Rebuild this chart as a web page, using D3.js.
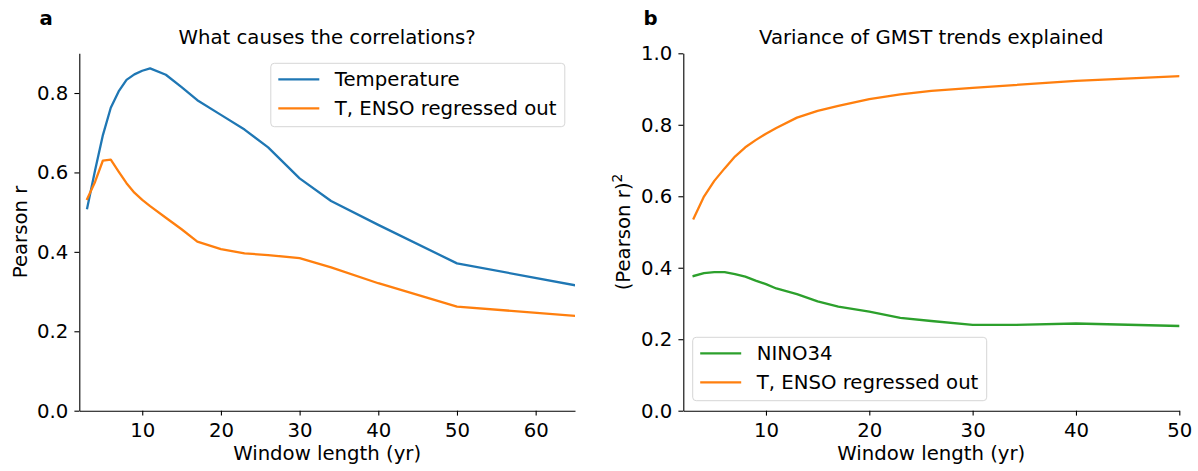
<!DOCTYPE html>
<html>
<head>
<meta charset="utf-8">
<script src="https://cdn.jsdelivr.net/npm/d3@7"></script>
<style>
  body { margin: 0; background: #fff; }
  svg text { font-family: "DejaVu Sans", sans-serif; fill: #000; }
</style>
</head>
<body>
<div id="chart"></div>
<script>
// panel a
const windowsA = [3, 4, 5, 6, 7, 8, 9, 10, 11, 13, 15, 17, 20, 23, 26, 30, 34, 40, 50, 65]
const temperatureA = [0.510, 0.605, 0.694, 0.763, 0.804, 0.833, 0.847, 0.856, 0.862, 0.846, 0.815, 0.782, 0.745, 0.708, 0.663, 0.585, 0.528, 0.468, 0.371, 0.316]
const ensoOutA = [0.533, 0.576, 0.630, 0.632, 0.602, 0.573, 0.549, 0.531, 0.515, 0.486, 0.457, 0.426, 0.407, 0.396, 0.392, 0.384, 0.361, 0.321, 0.262, 0.239]

// panel b
const windowsB = [3, 4, 5, 6, 7, 8, 9, 10, 11, 13, 15, 17, 20, 23, 26, 30, 34, 40, 50]
const nino34B = [0.377, 0.385, 0.388, 0.388, 0.382, 0.375, 0.364, 0.354, 0.342, 0.326, 0.306, 0.291, 0.277, 0.260, 0.251, 0.240, 0.240, 0.244, 0.237]
const ensoOutB = [0.538, 0.599, 0.643, 0.678, 0.711, 0.737, 0.757, 0.775, 0.791, 0.820, 0.839, 0.853, 0.872, 0.885, 0.895, 0.903, 0.911, 0.923, 0.936]

const xTicksA = [10, 20, 30, 40, 50, 60]
const yTicksA = [0, 0.2, 0.4, 0.6, 0.8]
const xTicksB = [10, 20, 30, 40, 50]
const yTicksB = [0, 0.2, 0.4, 0.6, 0.8, 1.0]

const colors = { blue: '#1f77b4', orange: '#ff7f0e', green: '#2ca02c' }
const fontSize = 19.7
const W = 1198, H = 471
const axTop = 53.3, axBottom = 410.7

const svg = d3.select('#chart')
    .append('svg')
        .attr('width', W)
        .attr('height', H)

const drawPanel = ({ left, right, xDomain, yDomain, xTicks, yTicks, series, title, letter, letterX, yLabel, yLabelX, legendPos }) => {
    const x = d3.scaleLinear().domain(xDomain).range([left, right])
    const y = d3.scaleLinear().domain(yDomain).range([axBottom, axTop])

    const g = svg.append('g')

    const clipId = 'clip' + letter
    g.append('clipPath').attr('id', clipId)
        .append('rect')
            .attr('x', left).attr('y', axTop)
            .attr('width', right - left).attr('height', axBottom - axTop)

    const line = d3.line().x(d => x(d[0])).y(d => y(d[1]))

    series.forEach(s => {
        g.append('path')
            .datum(s.xs.map((v, i) => [v, s.ys[i]]))
            .attr('clip-path', `url(#${clipId})`)
            .attr('fill', 'none')
            .attr('stroke', s.color)
            .attr('stroke-width', 2.3)
            .attr('stroke-linejoin', 'round')
            .attr('stroke-linecap', 'square')
            .attr('d', line)
    })

    const xAxis = g.append('g')
        .attr('transform', `translate(0, ${axBottom})`)
        .call(d3.axisBottom(x).tickValues(xTicks).tickFormat(d3.format('d'))
            .tickSize(4.9).tickSizeOuter(0).tickPadding(7.4))
    const yAxis = g.append('g')
        .attr('transform', `translate(${left}, 0)`)
        .call(d3.axisLeft(y).tickValues(yTicks).tickFormat(d3.format('.1f'))
            .tickSize(4.9).tickSizeOuter(0).tickPadding(6.2))

    ;[xAxis, yAxis].forEach(a => {
        a.selectAll('text').style('font-size', fontSize + 'px').style('font-family', '"DejaVu Sans", sans-serif').attr('fill', '#000')
        a.selectAll('line').attr('stroke', '#000').attr('stroke-width', 1.1)
        a.select('.domain').attr('stroke', '#000').attr('stroke-width', 1.1)
    })

    // x label
    g.append('text')
        .attr('x', (left + right) / 2)
        .attr('y', 460)
        .attr('text-anchor', 'middle')
        .style('font-size', fontSize + 'px')
        .text('Window length (yr)')

    // y label
    const yl = g.append('text')
        .attr('transform', `translate(${yLabelX}, ${(axTop + axBottom) / 2}) rotate(-90)`)
        .attr('text-anchor', 'middle')
        .style('font-size', fontSize + 'px')
    yLabel(yl)

    // title
    g.append('text')
        .attr('x', (left + right) / 2)
        .attr('y', 43.6)
        .attr('text-anchor', 'middle')
        .style('font-size', fontSize + 'px')
        .text(title)

    // panel letter
    g.append('text')
        .attr('x', letterX)
        .attr('y', 25)
        .style('font-size', fontSize + 'px')
        .style('font-weight', 'bold')
        .text(letter)

    // legend
    const lw = 294, lh = 63.4
    const lx = legendPos === 'upper right' ? right - 10.2 - lw : left + 9.4
    const ly = legendPos === 'upper right' ? axTop + 10 : axBottom - 10 - lh
    const legend = g.append('g').attr('transform', `translate(${lx}, ${ly})`)
    legend.append('rect')
        .attr('width', lw).attr('height', lh)
        .attr('rx', 3.5)
        .attr('fill', '#fff').attr('fill-opacity', 0.8)
        .attr('stroke', '#d6d6d6').attr('stroke-width', 1)
    series.forEach((s, i) => {
        const cy = 16 + i * 29
        legend.append('line')
            .attr('x1', 7.5).attr('x2', 48.5)
            .attr('y1', cy).attr('y2', cy)
            .attr('stroke', s.color).attr('stroke-width', 2.3)
        legend.append('text')
            .attr('x', 64)
            .attr('y', cy + 7)
            .style('font-size', fontSize + 'px')
            .text(s.label)
    })
}

drawPanel({
    left: 79.3, right: 575,
    xDomain: [2, 65], yDomain: [0, 0.9],
    xTicks: xTicksA, yTicks: yTicksA,
    series: [
        { xs: windowsA, ys: temperatureA, color: colors.blue, label: 'Temperature' },
        { xs: windowsA, ys: ensoOutA, color: colors.orange, label: 'T, ENSO regressed out' }
    ],
    title: 'What causes the correlations?',
    letter: 'a', letterX: 39.5,
    yLabel: t => t.text('Pearson r'),
    yLabelX: 27,
    legendPos: 'upper right'
})

drawPanel({
    left: 683.3, right: 1179.3,
    xDomain: [2, 50], yDomain: [0, 1.0],
    xTicks: xTicksB, yTicks: yTicksB,
    series: [
        { xs: windowsB, ys: nino34B, color: colors.green, label: 'NINO34' },
        { xs: windowsB, ys: ensoOutB, color: colors.orange, label: 'T, ENSO regressed out' }
    ],
    title: 'Variance of GMST trends explained',
    letter: 'b', letterX: 643.5,
    yLabel: t => {
        t.append('tspan').text('(Pearson r)')
        t.append('tspan').attr('dy', -8).style('font-size', (fontSize * 0.7) + 'px').text('2')
    },
    yLabelX: 629.5,
    legendPos: 'lower left'
})
</script>
</body>
</html>
